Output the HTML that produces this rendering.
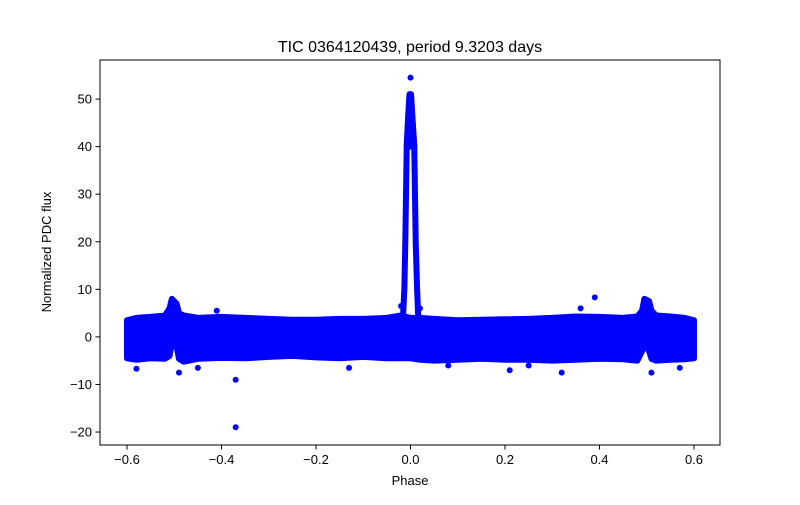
<!DOCTYPE html>
<html><head><meta charset="utf-8"><style>
body{margin:0;background:#fff}
svg text{font-family:"Liberation Sans","DejaVu Sans",sans-serif;fill:#000}
</style></head><body>
<svg id="chart" width="800" height="500" xmlns="http://www.w3.org/2000/svg">
<rect width="800" height="500" fill="#fff"/>
<g id="plot"></g>
<rect x="100" y="60" width="620" height="385" fill="none" stroke="#000" stroke-width="1"/>
<g id="axes"></g>
<text x="410" y="52" font-size="16" text-anchor="middle">TIC 0364120439, period 9.3203 days</text>
<text x="410" y="485" font-size="13" text-anchor="middle">Phase</text>
<text x="51" y="252" font-size="13" text-anchor="middle" transform="rotate(-90 51 252)">Normalized PDC flux</text>
</svg>
<script>
const xTicks=[-0.6,-0.4,-0.2,0.0,0.2,0.4,0.6];
const xTickLabels=["−0.6","−0.4","−0.2","0.0","0.2","0.4","0.6"];
const yTicks=[-20,-10,0,10,20,30,40,50];
const yTickLabels=["−20","−10","0","10","20","30","40","50"];
const bandPhase=[-0.6,-0.58,-0.55,-0.52,-0.51,-0.505,-0.495,-0.49,-0.48,-0.45,-0.4,-0.35,-0.3,-0.25,-0.2,-0.15,-0.1,-0.05,-0.02,0.0,0.02,0.05,0.1,0.15,0.2,0.25,0.3,0.35,0.4,0.45,0.48,0.49,0.495,0.505,0.51,0.52,0.55,0.58,0.6];
const bandUpper=[3.5,4,4.2,4.5,6,8,7,5,4.5,4,4.2,4,3.8,3.6,3.6,3.8,3.8,4,4.5,4,4,3.8,3.5,3.6,3.7,3.8,4,4.3,4.2,4,4.3,5.5,8,7.5,5.5,4.5,4.3,4,3.5];
const bandLower=[-4.5,-4.8,-4.5,-4.6,-4,-1.2,-2,-4.6,-5.2,-4.6,-4.4,-4.5,-4.2,-4,-4.3,-4.5,-4.2,-4.5,-4.5,-4.5,-4.8,-5,-4.8,-4.6,-4.8,-4.8,-5,-4.8,-4.6,-4.7,-5,-3,-1.5,-3,-4.6,-5,-4.8,-4.7,-4.5];
const leftLegPhase=[-0.018,-0.013,-0.011,-0.0095,-0.008,-0.005,-0.002];
const leftLegFlux=[0,10,20,30,40,46,51];
const rightLegPhase=[0.018,0.014,0.011,0.0095,0.008,0.004,0.001];
const rightLegFlux=[0,10,20,30,40,46,51];
const outlierPhase=[0.0,-0.37,-0.37,-0.58,-0.49,-0.45,-0.13,0.21,0.32,0.51,0.57,0.39,0.36,0.02,-0.02,-0.41,0.25,0.08];
const outlierFlux=[54.5,-9,-19,-6.7,-7.5,-6.5,-6.5,-7,-7.5,-7.5,-6.5,8.3,6,6,6.5,5.5,-6,-6];

const X=v=>410.5+v*472.5, Y=v=>336.9-v*4.757;
const NS="http://www.w3.org/2000/svg";
const plot=document.getElementById('plot'), axes=document.getElementById('axes');
function mk(t,a,p){const e=document.createElementNS(NS,t);for(const k in a)e.setAttribute(k,a[k]);p.appendChild(e);return e;}
const blue="#0000ff";
let d="M"+bandPhase.map((p,i)=>X(p)+","+Y(bandUpper[i])).join("L");
for(let i=bandPhase.length-1;i>=0;i--)d+="L"+X(bandPhase[i])+","+Y(bandLower[i]);
d+="Z";
const band=mk('path',{d:d,fill:blue,stroke:blue,'stroke-width':6,'stroke-linejoin':'round'},plot);


function leg(ph,fl,name){
 const e=mk('polyline',{points:ph.map((p,i)=>X(p)+","+Y(fl[i])).join(" "),fill:'none',stroke:blue,'stroke-width':6,'stroke-linejoin':'round','stroke-linecap':'round'},plot);
 
 
}
leg(leftLegPhase,leftLegFlux,'peak-ingress');
leg(rightLegPhase,rightLegFlux,'peak-egress');
let tp="M"+X(leftLegPhase[4])+","+Y(leftLegFlux[4]);
for(let i=5;i<7;i++)tp+="L"+X(leftLegPhase[i])+","+Y(leftLegFlux[i]);
for(let i=6;i>=4;i--)tp+="L"+X(rightLegPhase[i])+","+Y(rightLegFlux[i]);
const peakTop=mk('path',{d:tp+"Z",fill:blue,stroke:blue,'stroke-width':6,'stroke-linejoin':'round'},plot);


outlierPhase.forEach((p,i)=>{
 const c=mk('circle',{cx:X(p),cy:Y(outlierFlux[i]),r:3,fill:blue},plot);
 
 
});
xTicks.forEach((v,i)=>{
 const l=mk('line',{x1:X(v),x2:X(v),y1:445,y2:449.5,stroke:'#000'},axes);
 
 
 const t=mk('text',{x:X(v),y:464,'font-size':13,'text-anchor':'middle'},axes);
 t.textContent=xTickLabels[i];
 
 
});
yTicks.forEach((v,i)=>{
 const l=mk('line',{x1:95.5,x2:100,y1:Y(v),y2:Y(v),stroke:'#000'},axes);
 
 
 const t=mk('text',{x:92,y:Y(v)+4.5,'font-size':13,'text-anchor':'end'},axes);
 t.textContent=yTickLabels[i];
 
 
});
</script>
</body></html>
